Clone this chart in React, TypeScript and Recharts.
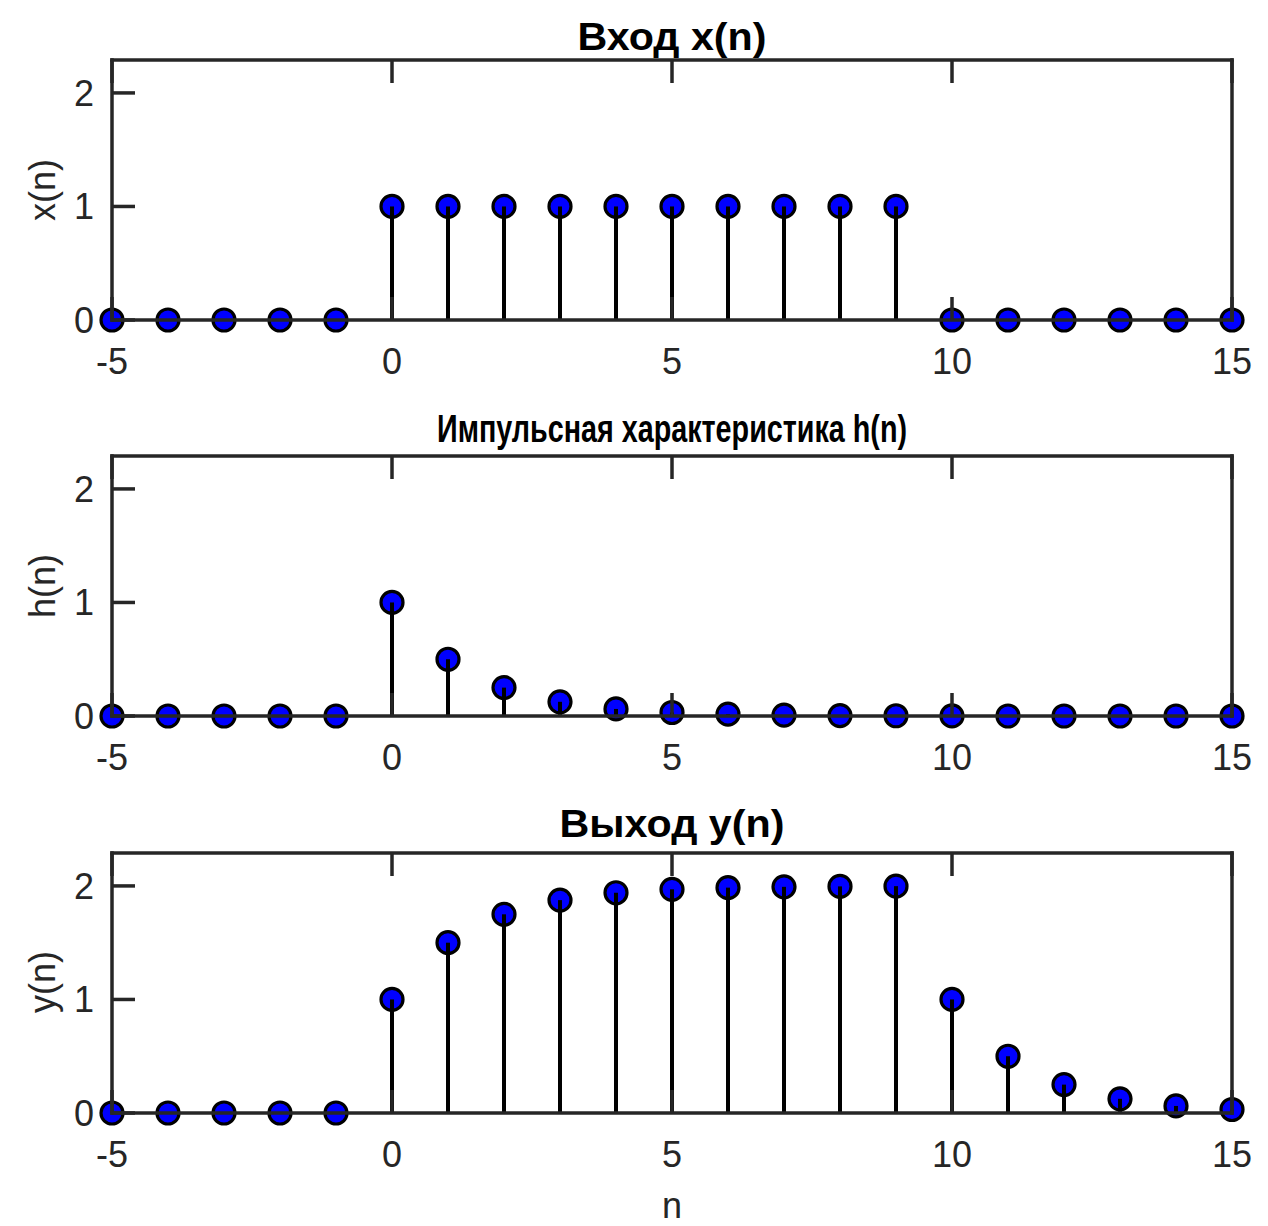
import React from "react";
import { ComposedChart, Bar, Scatter, XAxis, YAxis } from "recharts";

// отсчёты n
const nValues = [-5, -4, -3, -2, -1, 0, 1, 2, 3, 4, 5, 6, 7, 8, 9, 10, 11, 12, 13, 14, 15];

// вход x(n)
const xValues = [0, 0, 0, 0, 0, 1, 1, 1, 1, 1, 1, 1, 1, 1, 1, 0, 0, 0, 0, 0, 0];

// импульсная характеристика h(n)
const hValues = [0, 0, 0, 0, 0, 1, 0.5, 0.25, 0.125, 0.062, 0.031, 0.016, 0.008, 0.004, 0.002, 0.001, 0, 0, 0, 0, 0];

// выход y(n)
const yValues = [0, 0, 0, 0, 0, 1, 1.5, 1.75, 1.875, 1.94, 1.97, 1.985, 1.992, 1.996, 1.998, 1, 0.5, 0.25, 0.125, 0.062, 0.031];

const xTicks = [-5, 0, 5, 10, 15];
const yTicks = [0, 1, 2];

const AXIS = "#262626";
const FONT = "'Liberation Sans', Arial, Helvetica, sans-serif";

const axisLine = { stroke: AXIS, strokeWidth: 3.5, strokeLinecap: "square" as const };
const tickLine = { stroke: AXIS, strokeWidth: 3.5 };
const tickFont = { fill: AXIS, fontSize: 36, fontFamily: FONT };
// зеркальные оси: только засечки, без подписей
const NoLabel = () => <g />;

const Marker = (p: any) => (
  <circle cx={p.cx} cy={p.cy} r={11} fill="#0000FF" stroke="#000" strokeWidth={3.2} />
);

function StemPlot({ values, top }: { values: number[]; top: number }) {
  const data = nValues.map((n, i) => ({ n, v: values[i] }));
  return (
    <div style={{ position: "absolute", left: 0, top, width: 1268, height: 380 }}>
      <ComposedChart
        width={1268}
        height={380}
        data={data}
        margin={{ top: 30, right: 30, bottom: 40, left: 12 }}
      >
        <Scatter
          dataKey="v"
          xAxisId="b"
          yAxisId="l"
          shape={Marker}
          zIndex={100}
          isAnimationActive={false}
        />
        <Bar
          dataKey="v"
          xAxisId="b"
          yAxisId="l"
          barSize={4}
          fill="#000"
          zIndex={300}
          isAnimationActive={false}
        />
        <XAxis
          xAxisId="b"
          dataKey="n"
          type="number"
          domain={[-5, 15]}
          ticks={xTicks}
          interval={0}
          height={40}
          tickSize={-23}
          tickMargin={51}
          axisLine={axisLine}
          tickLine={tickLine}
          tick={tickFont}
        />
        <XAxis
          xAxisId="t"
          orientation="top"
          dataKey="n"
          type="number"
          domain={[-5, 15]}
          ticks={xTicks}
          interval={0}
          height={10}
          tickSize={-23}
          axisLine={axisLine}
          tickLine={tickLine}
          tick={NoLabel}
        />
        <YAxis
          yAxisId="l"
          type="number"
          domain={[0, 2.29]}
          ticks={yTicks}
          interval={0}
          width={100}
          tickSize={-23}
          tickMargin={41}
          axisLine={axisLine}
          tickLine={tickLine}
          tick={tickFont}
        />
        <YAxis
          yAxisId="r"
          orientation="right"
          type="number"
          domain={[0, 2.29]}
          ticks={yTicks}
          interval={0}
          width={6}
          tickSize={-23}
          axisLine={axisLine}
          tickLine={tickLine}
          tick={NoLabel}
        />
      </ComposedChart>
    </div>
  );
}

export default function App() {
  const titleStyle = { fill: "#000", fontSize: 39.6, fontWeight: 700, fontFamily: FONT };
  const labelStyle = { fill: AXIS, fontSize: 36, fontFamily: FONT };
  return (
    <div
      style={{
        position: "absolute",
        left: 0,
        top: 0,
        width: 1268,
        height: 1226,
        background: "#fff",
        overflow: "hidden",
      }}
    >
      <StemPlot values={xValues} top={20} />
      <StemPlot values={hValues} top={416} />
      <StemPlot values={yValues} top={813} />
      <svg
        width={1268}
        height={1226}
        style={{ position: "absolute", left: 0, top: 0, pointerEvents: "none" }}
      >
        <text x={672} y={50} textAnchor="middle" textLength={189} lengthAdjust="spacingAndGlyphs" style={titleStyle}>
          Вход x(n)
        </text>
        <text x={672} y={442} textAnchor="middle" textLength={470} lengthAdjust="spacingAndGlyphs" style={titleStyle}>
          Импульсная характеристика h(n)
        </text>
        <text x={672} y={837} textAnchor="middle" textLength={225} lengthAdjust="spacingAndGlyphs" style={titleStyle}>
          Выход y(n)
        </text>
        <text transform="translate(55,190) rotate(-90)" textAnchor="middle" style={labelStyle}>
          x(n)
        </text>
        <text transform="translate(55,586) rotate(-90)" textAnchor="middle" style={labelStyle}>
          h(n)
        </text>
        <text transform="translate(55,982) rotate(-90)" textAnchor="middle" style={labelStyle}>
          y(n)
        </text>
        <text x={672} y={1218} textAnchor="middle" style={labelStyle}>
          n
        </text>
      </svg>
    </div>
  );
}
